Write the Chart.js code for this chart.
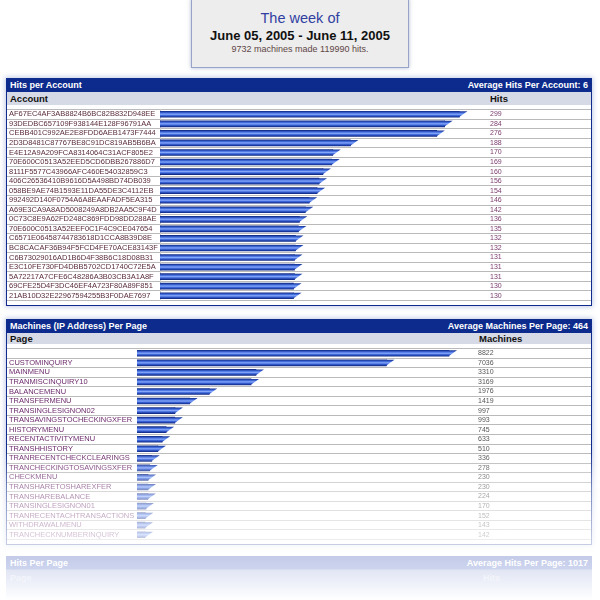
<!DOCTYPE html>
<html><head><meta charset="utf-8">
<script src="https://cdn.jsdelivr.net/npm/chart.js@4.4.0/dist/chart.umd.min.js"></script>
<style>
html,body{margin:0;padding:0;background:#fff;}
body{width:600px;height:600px;position:relative;overflow:hidden;font-family:'Liberation Sans',Arial,sans-serif;}
#hdr{position:absolute;left:191px;top:-1px;width:216px;height:67px;background:#ededed;border:1px solid #97a3c8;box-shadow:0 0 4px rgba(110,125,170,0.55);text-align:center;}
#hdr .a{position:absolute;left:0;width:100%;top:10px;font-size:14.5px;color:#3040a2;}
#hdr .b{position:absolute;left:0;width:100%;top:28px;font-size:13px;font-weight:bold;color:#111;}
#hdr .c{position:absolute;left:0;width:100%;top:44px;font-size:9px;color:#5e4646;}
.panel{position:absolute;left:6px;width:584px;border:1px solid #0f2c8c;box-shadow:0 0 5px 1px rgba(120,140,200,0.45);background:#fff;}
.tbar{position:absolute;left:0;top:0;width:584px;background:#0c2b8c;color:#fff;font-weight:bold;font-size:9px;}
.tbar .l{position:absolute;left:3px;top:0;}
.tbar .r{position:absolute;right:3px;top:0;}
.hrow{position:absolute;left:0;width:584px;background:#d6dae6;font-weight:bold;font-size:9.5px;color:#111;}
.hrow span{position:absolute;top:0;}
.panel canvas{position:absolute;left:0;}
#fade{position:absolute;left:0;top:450px;width:600px;height:100px;background:linear-gradient(to bottom,rgba(255,255,255,0) 0%,rgba(255,255,255,0.45) 40%,rgba(255,255,255,0.8) 100%);pointer-events:none;}
#ghost{position:absolute;left:6px;top:556px;width:586px;height:44px;background:linear-gradient(to bottom,#c3cbe9 0px,#cdd4ee 13px,#e2e6f4 14px,#eef1f9 28px,#ffffff 44px);color:#fff;font-weight:bold;font-size:9px;}
#ghost span{position:absolute;}
</style>
</head><body>
<div id="hdr">
  <div class="a">The week of</div>
  <div class="b">June 05, 2005 - June 11, 2005</div>
  <div class="c">9732 machines made 119990 hits.</div>
</div>

<div class="panel" style="top:78px;height:226px;">
  <div class="tbar" style="height:13px;line-height:13px;"><span class="l">Hits per Account</span><span class="r">Average Hits Per Account: 6</span></div>
  <div class="hrow" style="top:13px;height:13px;line-height:13px;"><span style="left:3px">Account</span><span style="left:483px">Hits</span></div>
  <canvas id="c1" width="584" height="200" style="top:26px;width:584px;height:200px;"></canvas>
</div>

<div class="panel" style="top:319px;height:224px;">
  <div class="tbar" style="height:13px;line-height:13px;"><span class="l">Machines (IP Address) Per Page</span><span class="r">Average Machines Per Page: 464</span></div>
  <div class="hrow" style="top:13px;height:11px;line-height:11px;"><span style="left:3px">Page</span><span style="left:472px">Machines</span></div>
  <canvas id="c2" width="584" height="200" style="top:24px;width:584px;height:200px;"></canvas>
</div>

<div id="fade"></div>
<div id="ghost">
  <span style="left:4px;top:2px;">Hits Per Page</span>
  <span style="right:4px;top:2px;">Average Hits Per Page: 1017</span>
  <span style="left:4px;top:17px;color:#f3f5fb;">Page</span>
  <span style="left:477px;top:17px;color:#f3f5fb;">Hits</span>
</div>

<script>
// ---- data ----
const accounts = [
  "AF67EC4AF3AB8824B6BC82B832D948EE","93DEDBC657109F938144E128F96791AA","CEBB401C992AE2E8FDD6AEB1473F7444",
  "2D3D8481C87767BE8C91DC819AB5B6BA","E4E12A9A209FCA8314064C31ACF805E2","70E600C0513A52EED5CD6DBB267886D7",
  "8111F5577C43966AFC460E54032859C3","406C26536410B9616D5A498BD74DB039","058BE9AE74B1593E11DA55DE3C4112EB",
  "992492D140F0754A6A8EAAFADF5EA315","A69E3CA9A8AD5008249A8DB2AA5C9F4D","0C73C8E9A62FD248C869FDD98DD288AE",
  "70E600C0513A52EEF0C1F4C9CE047654","C6571E06458744783618D1CCA8B39D8E","BC8CACAF36B94F5FCD4FE70ACE83143F",
  "C6B73029016AD1B6D4F38B6C18D08B31","E3C10FE730FD4DBB5702CD1740C72E5A","5A72217A7CFE6C48286A3B03CB3A1A8F",
  "69CFE25D4F3DC46EF4A723F80A89F851","21AB10D32E22967594255B3F0DAE7697"
];
const accountHits = [299,284,276,188,170,169,160,156,154,146,142,136,135,132,132,131,131,131,130,130];

const pages = [
  "","CUSTOMINQUIRY","MAINMENU","TRANMISCINQUIRY10","BALANCEMENU","TRANSFERMENU","TRANSINGLESIGNON02",
  "TRANSAVINGSTOCHECKINGXFER","HISTORYMENU","RECENTACTIVITYMENU","TRANSHHISTORY","TRANRECENTCHECKCLEARINGS",
  "TRANCHECKINGTOSAVINGSXFER","CHECKMENU","TRANSHARETOSHAREXFER","TRANSHAREBALANCE","TRANSINGLESIGNON01",
  "TRANRECENTACHTRANSACTIONS","WITHDRAWALMENU","TRANCHECKNUMBERINQUIRY"
];
const pageMachines = [8822,7036,3310,3169,1976,1419,997,993,745,633,510,336,278,230,230,224,170,152,143,142];

// ---- rendering ----
const FONT = "'Liberation Sans', Arial, sans-serif";
const BAR_H = 6, TIP = 8;

function barFill(ctx) {
  const chart = ctx.chart, ys = chart.scales && chart.scales.y;
  if (ctx.type !== 'data' || !ys) return '#3a64d8';
  const yc = ys.getPixelForValue(ctx.dataIndex);
  if (!isFinite(yc)) return '#3a64d8';
  const g = chart.ctx.createLinearGradient(0, yc - BAR_H / 2, 0, yc + BAR_H / 2);
  g.addColorStop(0, '#122c8a');
  g.addColorStop(0.3, '#4570e0');
  g.addColorStop(0.5, '#86a8fa');
  g.addColorStop(0.72, '#3862d6');
  g.addColorStop(1, '#112a86');
  return g;
}

const tipPlugin = {
  id: 'tips',
  afterDatasetsDraw(chart) {
    const c = chart.ctx;
    chart.getDatasetMeta(0).data.forEach(el => {
      const p = el.getProps(['x', 'y', 'height'], true);
      const top = p.y - p.height / 2, bot = p.y + p.height / 2;
      c.save();
      c.beginPath();
      c.moveTo(p.x - 0.5, top);
      c.lineTo(p.x + TIP, top);
      c.lineTo(p.x - 0.5, bot);
      c.closePath();
      c.fillStyle = el.options.backgroundColor;
      c.fill();
      c.restore();
    });
  }
};

function makeChart(id, cfg) {
  return new Chart(document.getElementById(id), {
    type: 'bar',
    data: {
      labels: cfg.labels,
      datasets: [{ data: cfg.values, base: cfg.min, barThickness: BAR_H, backgroundColor: barFill, borderWidth: 0 }]
    },
    options: {
      indexAxis: 'y', responsive: false, maintainAspectRatio: false, animation: false, devicePixelRatio: 1,
      layout: { padding: { left: 2, right: 0, top: 0, bottom: 0 } },
      plugins: { legend: { display: false }, tooltip: { enabled: false } },
      scales: {
        x: { type: 'linear', display: false, min: cfg.min, max: cfg.max, bounds: 'data' },
        y: {
          type: 'category', position: 'left', offset: true,
          grid: { offset: true, color: '#bababa', tickLength: cfg.leftW + 2, drawTicks: true },
          border: { display: cfg.leftBorder, color: '#c9c9c9' },
          ticks: { autoSkip: false, crossAlign: 'far', padding: 0, color: cfg.labelColor, font: { family: FONT, size: 7.5 } },
          afterFit: s => { s.width = cfg.leftW; }
        },
        y2: {
          type: 'category', position: 'right', offset: true, labels: cfg.values.map(String),
          grid: { offset: true, drawOnChartArea: false, color: '#bababa', tickLength: cfg.rightW, drawTicks: true },
          border: { display: false },
          ticks: { autoSkip: false, crossAlign: 'near', padding: cfg.valOffset - cfg.rightW, color: cfg.valueColor, font: { family: FONT, size: 7 } },
          afterFit: s => { s.width = cfg.rightW; }
        }
      }
    },
    plugins: [tipPlugin]
  });
}

makeChart('c1', {
  labels: accounts, values: accountHits, min: -6, max: 320,
  leftW: 151, rightW: 111, valOffset: 10, leftBorder: true,
  labelColor: '#5a2d3c', valueColor: '#7a3a6e'
});
makeChart('c2', {
  labels: pages, values: pageMachines, min: -86, max: 9422,
  leftW: 128, rightW: 121, valOffset: 8, leftBorder: false,
  labelColor: '#6b2a6b', valueColor: '#555555'
});
</script>
</body></html>
